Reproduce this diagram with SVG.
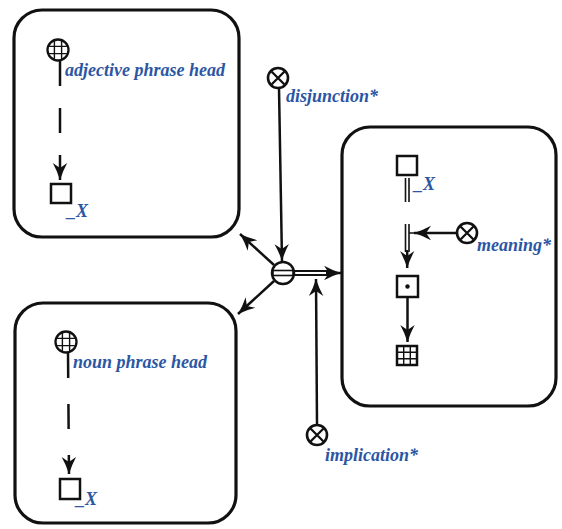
<svg xmlns="http://www.w3.org/2000/svg" width="562" height="529" viewBox="0 0 562 529">
<style>
.box{fill:none;stroke:#111;stroke-width:3.2}
.ln{fill:none;stroke:#111;stroke-width:2.5}
.thin{fill:none;stroke:#111;stroke-width:1.6}
.sym{fill:#fff;stroke:#111;stroke-width:2.5}
.lbl{font-family:"Liberation Serif","Times New Roman",serif;font-style:italic;font-weight:bold;font-size:18px;fill:#2b56a3}
</style>
<defs>
<marker id="ah" markerUnits="userSpaceOnUse" markerWidth="20" markerHeight="18" viewBox="-19 -9 20 18" refX="0" refY="0" orient="auto" overflow="visible">
<path d="M0,0 Q-9,-2.8 -17,-7.2 L-12,0 L-17,7.2 Q-9,2.8 0,0 Z" fill="#111"/>
</marker>
<g id="globe">
<circle r="10.5" fill="#fff" stroke="#111" stroke-width="2.3"/>
<path d="M-3.6,-9.8V9.8M3.6,-9.8V9.8M-9.8,-3.6H9.8M-9.8,3.6H9.8" stroke="#111" stroke-width="1.4"/>
</g>
<g id="otimes">
<circle r="10" fill="#fff" stroke="#111" stroke-width="2.6"/>
<path d="M-6.5,-6.5L6.5,6.5M-6.5,6.5L6.5,-6.5" stroke="#111" stroke-width="2.3"/>
</g>
</defs>

<g id="connectors">
<line class="ln" x1="279" y1="88" x2="282" y2="261" marker-end="url(#ah)"/>
<line class="ln" x1="317" y1="424" x2="316" y2="279" marker-end="url(#ah)"/>
<line class="ln" x1="274" y1="265" x2="240" y2="234" marker-end="url(#ah)"/>
<line class="ln" x1="274" y1="281" x2="238" y2="314" marker-end="url(#ah)"/>
<line x1="294" y1="273" x2="329" y2="273" stroke="#111" stroke-width="6"/>
<line x1="294" y1="273" x2="329" y2="273" stroke="#fff" stroke-width="2.2"/>
<line class="ln" x1="326" y1="273" x2="341" y2="273" marker-end="url(#ah)"/>
<line class="ln" x1="60" y1="61" x2="60" y2="180" stroke-dasharray="25 22" marker-end="url(#ah)"/>
<line class="ln" x1="68" y1="353" x2="69" y2="474" stroke-dasharray="25 26" marker-end="url(#ah)"/>
<path class="thin" d="M405.5,178V202M409,178V202"/>
<path class="thin" d="M405.5,224V252M409,224V252M409,233H414"/>
<line class="ln" x1="457" y1="233" x2="414" y2="233" marker-end="url(#ah)"/>
<line class="ln" x1="407.2" y1="250" x2="407.2" y2="268" marker-end="url(#ah)"/>
<line class="ln" x1="407.5" y1="298" x2="407.5" y2="342" marker-end="url(#ah)"/>
</g>

<g id="box-adjective">
<rect class="box" x="14" y="10" width="225" height="227" rx="28"/>
<g id="adj-head"><use href="#globe" x="58" y="50"/><text class="lbl" x="65" y="76">adjective phrase head</text></g>
<g id="adj-x"><rect class="sym" x="51" y="184" width="20" height="19"/><text class="lbl" x="67" y="217">_X</text></g>
</g>

<g id="box-noun">
<rect class="box" x="15" y="303" width="221" height="220" rx="28"/>
<g id="noun-head"><use href="#globe" x="66" y="342"/><text class="lbl" x="73" y="368">noun phrase head</text></g>
<g id="noun-x"><rect class="sym" x="60" y="479" width="20" height="20"/><text class="lbl" x="76" y="505">_X</text></g>
</g>

<g id="box-meaning">
<rect class="box" x="342" y="127" width="214" height="279" rx="28"/>
<g id="m-x"><rect class="sym" x="397" y="156" width="20" height="19"/><text class="lbl" x="414" y="190">_X</text></g>
<g id="m-dot"><rect class="sym" x="397" y="276" width="21" height="21" stroke-width="3"/><circle cx="407.5" cy="286.5" r="2.2" fill="#111"/></g>
<g id="m-grid"><rect class="sym" x="397" y="346" width="20" height="19" stroke-width="2.2"/><path d="M403.7,346V365M410.3,346V365M397,352.3H417M397,358.7H417" stroke="#111" stroke-width="1.4"/></g>
</g>

<g id="meaning"><use href="#otimes" x="467" y="233"/><text class="lbl" x="477" y="251">meaning*</text></g>
<g id="disjunction"><use href="#otimes" x="278" y="78"/><text class="lbl" x="286" y="102">disjunction*</text></g>
<g id="implication"><use href="#otimes" x="317" y="435"/><text class="lbl" x="325" y="461">implication*</text></g>
<g id="center">
<circle class="sym" cx="283" cy="273" r="11"/>
<rect x="273" y="270.5" width="20" height="5" fill="#fff" stroke="#111" stroke-width="1.6"/>
</g>
</svg>
